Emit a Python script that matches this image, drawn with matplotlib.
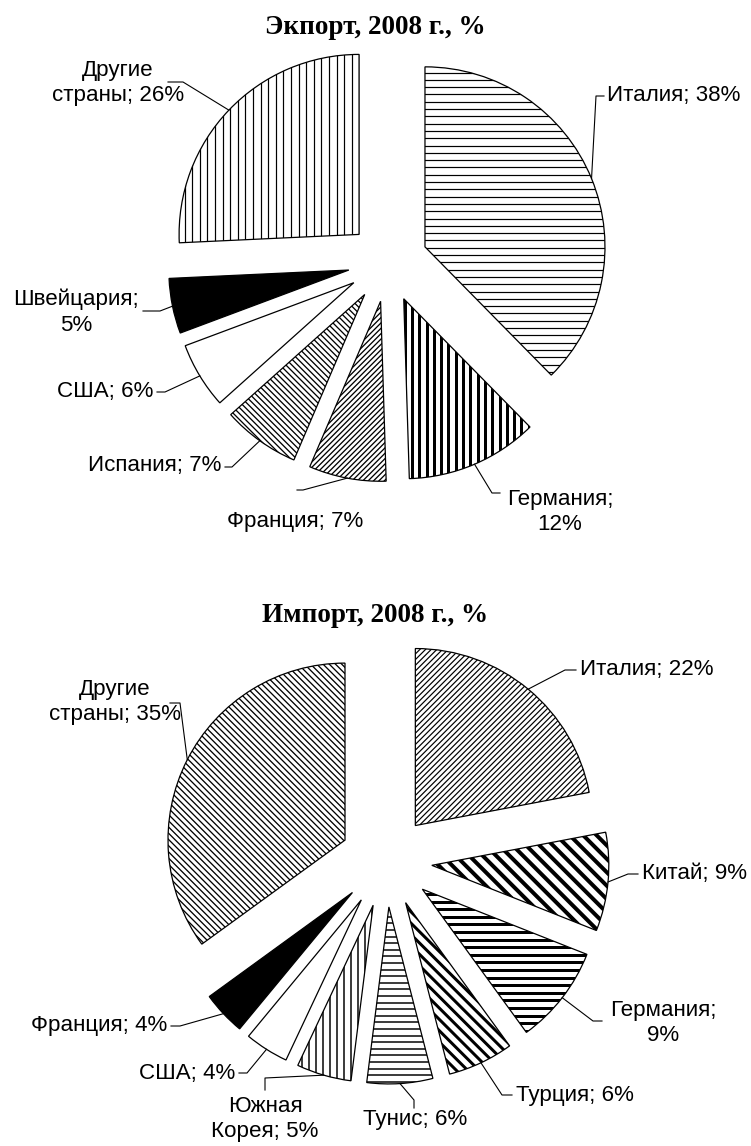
import numpy as np
import matplotlib
matplotlib.use("Agg")
import matplotlib.pyplot as plt
from matplotlib.collections import LineCollection
from matplotlib.patches import Wedge

W, H = 751, 1146

# ---- data ----
exp_names = ["Италия", "Германия", "Франция", "Испания", "США", "Швейцария", "Другие\nстраны"]
exp_values = [38, 12, 7, 7, 6, 5, 26]

imp_names = ["Италия", "Китай", "Германия", "Турция", "Тунис", "Южная\nКорея", "США", "Франция",
             "Другие\nстраны"]
imp_values = [22, 9, 9, 6, 6, 5, 4, 4, 35]

exp_title = "Экпорт, 2008 г., %"
imp_title = "Импорт, 2008 г., %"

# ---- styles: (face, hatch angle, spacing px, line width px) ----
exp_fill = [("w", 0, 7.3, 1.2), ("w", 90, 7.3, 3.0), ("w", 45, 3.8, 1.3), ("w", -45, 4.2, 1.3),
            ("w", None, 0, 0), ("k", None, 0, 0), ("w", 90, 7.6, 1.2)]
imp_fill = [("w", 45, 4.0, 1.2), ("w", -45, 9.5, 4.0), ("w", 0, 7.6, 3.0), ("w", -45, 8.0, 3.0),
            ("w", 0, 6.6, 1.5), ("w", 90, 7.0, 1.5), ("w", None, 0, 0), ("k", None, 0, 0),
            ("w", -45, 4.4, 1.3)]

# label layout (pixels, y down): text x, text y, ha, hook x, hook y, elbow x, elbow y, separator
exp_lab = [(607, 96, "left", 604, 96, 596, 96, " "),
           (560, 512, "center", 500, 493, 492, 493, "\n"),
           (295, 521, "center", 297, 490, 303, 490, " "),
           (221, 466, "right", 225, 467, 232, 467, " "),
           (153, 392, "right", 157, 392, 165, 392, " "),
           (76, 312, "center", 143, 311, 160, 311, "\n"),
           (118, 83, "center", 168, 82, 183, 82, " ")]
imp_lab = [(580, 670, "left", 576, 670, 565, 670, " "),
           (642, 874, "left", 638, 874, 628, 874, " "),
           (663, 1023, "center", 602, 1021, 593, 1021, "\n"),
           (516, 1095, "left", 512, 1095, 502, 1095, " "),
           (415, 1120, "center", 414, 1108, 414, 1100, " "),
           (265, 1119, "center", 265, 1090, 265, 1078, " "),
           (235, 1073, "right", 239, 1073, 247, 1073, " "),
           (167, 1026, "right", 171, 1026, 180, 1026, " "),
           (115, 702, "center", 170, 703, 180, 703, " ")]

LABEL_FONT = dict(family=["Liberation Sans", "DejaVu Sans"], fontsize=16.1, linespacing=1.3)
TITLE_FONT = dict(family=["Liberation Serif", "DejaVu Serif"], fontsize=19.5, fontweight="bold")

fig = plt.figure(figsize=(W / 100, H / 100), dpi=100)
ax = fig.add_axes([0, 0, 1, 1])


def hatch(w, angle, step, lw):
    cx, cy = w.center
    r = w.r
    a = np.deg2rad(angle)
    d = np.array([np.cos(a), np.sin(a)])
    n = np.array([-np.sin(a), np.cos(a)])
    segs = []
    for k in np.arange(-r * 1.1, r * 1.1, step):
        p = np.array([cx, cy]) + k * n
        segs.append([p - 1.2 * r * d, p + 1.2 * r * d])
    lc = LineCollection(segs, colors="black", linewidths=lw * 0.72, zorder=2)
    ax.add_collection(lc)
    lc.set_clip_path(w)


def draw_pie(values, names, fills, labels, cx, cy, r, expl, title, ty):
    # explode is in data units (pixels) here
    wedges, _ = ax.pie(values, center=(cx, H - cy), radius=r, startangle=90, counterclock=False,
                       explode=[expl * r] * len(values),
                       wedgeprops=dict(edgecolor="none", linewidth=0))
    for w, (fc, ang, step, lw) in zip(wedges, fills):
        w.set_facecolor("black" if fc == "k" else "white")
        w.set_zorder(1)
        if ang is not None:
            hatch(w, ang, step, lw)
        ax.add_patch(Wedge(w.center, w.r, w.theta1, w.theta2, fill=False,
                           edgecolor="black", linewidth=0.9, zorder=3))
    for w, name, v, lab in zip(wedges, names, values, labels):
        tx, tyy, ha, hx, hy, ex, ey, sep = lab
        mid = np.deg2rad((w.theta1 + w.theta2) / 2)
        axp = w.center[0] + w.r * np.cos(mid)
        ayp = w.center[1] + w.r * np.sin(mid)
        ax.plot([axp, ex, hx], [ayp, H - ey, H - hy], color="black", lw=0.8, zorder=4)
        ax.text(tx, H - tyy, f"{name};{sep}{v}%", ha=ha, va="center", multialignment="center",
                **LABEL_FONT)
    ax.text(375, H - ty, title, ha="center", va="center", **TITLE_FONT)


draw_pie(exp_values, exp_names, exp_fill, exp_lab, 388, 262, 180, 0.222, exp_title, 27)
draw_pie(imp_values, imp_names, imp_fill, imp_lab, 386, 861, 177, 0.26, imp_title, 615)

ax.set_xlim(0, W)
ax.set_ylim(0, H)
ax.set_aspect("equal")
ax.axis("off")

fig.savefig("out.png", dpi=100, facecolor="white")
